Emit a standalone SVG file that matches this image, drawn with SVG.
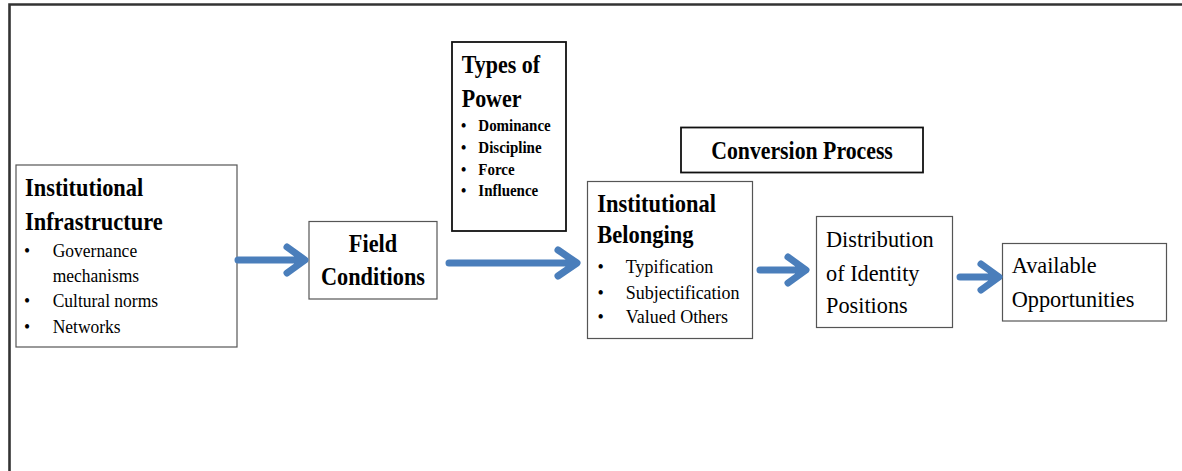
<svg xmlns="http://www.w3.org/2000/svg" width="1182" height="471" viewBox="0 0 1182 471">
<style>
.box{fill:#fff;stroke:#555;stroke-width:1.2}
.boxk{fill:#fff;stroke:#111;stroke-width:1.8}
.b{font-family:"Liberation Serif","Times New Roman",serif;font-weight:bold;fill:#000}
.r{font-family:"Liberation Serif","Times New Roman",serif;fill:#000}
.arr{fill:none;stroke:#4a7ebb;stroke-width:7;stroke-linecap:round;stroke-linejoin:round}
</style>
<rect width="1182" height="471" fill="#fff"/>
<path d="M9.5,480 L9.5,4.5 L1190,4.5" fill="none" stroke="#333" stroke-width="2.6"/>

<g id="institutional-infrastructure">
<rect class="box" x="16" y="165" width="221" height="182"/>
<text class="b" font-size="22.4" transform="translate(25,195.7) scale(1,1.15)">Institutional</text>
<text class="b" font-size="22.4" transform="translate(25,230) scale(1,1.15)">Infrastructure</text>
<g class="r" font-size="17.5">
<text transform="translate(24,256.7) scale(1,1.1)">•</text>
<text transform="translate(52.7,256.7) scale(1,1.1)">Governance</text>
<text transform="translate(52.7,281.7) scale(1,1.1)">mechanisms</text>
<text transform="translate(24,306.7) scale(1,1.1)">•</text>
<text transform="translate(52.7,306.7) scale(1,1.1)">Cultural norms</text>
<text transform="translate(24,333.3) scale(1,1.1)">•</text>
<text transform="translate(52.7,333.3) scale(1,1.1)">Networks</text>
</g>
</g>

<g id="field-conditions">
<rect class="box" x="309" y="221.5" width="128" height="77.5"/>
<text class="b" font-size="22.3" text-anchor="middle" transform="translate(373,251.7) scale(1,1.12)">Field</text>
<text class="b" font-size="22.3" text-anchor="middle" transform="translate(373,285) scale(1,1.12)">Conditions</text>
</g>

<g id="types-of-power">
<rect class="boxk" x="452" y="42" width="114" height="189"/>
<text class="b" font-size="22" transform="translate(461.7,73.3) scale(1,1.12)">Types of</text>
<text class="b" font-size="22" transform="translate(461.7,106.5) scale(1,1.12)">Power</text>
<g class="b" font-size="15">
<text transform="translate(461,131) scale(1,1.15)">•</text>
<text transform="translate(478.3,131) scale(1,1.15)">Dominance</text>
<text transform="translate(461,152.7) scale(1,1.15)">•</text>
<text transform="translate(478.3,152.7) scale(1,1.15)">Discipline</text>
<text transform="translate(461,174.5) scale(1,1.15)">•</text>
<text transform="translate(478.3,174.5) scale(1,1.15)">Force</text>
<text transform="translate(461,196.3) scale(1,1.15)">•</text>
<text transform="translate(478.3,196.3) scale(1,1.15)">Influence</text>
</g>
</g>

<g id="conversion-process">
<rect class="boxk" x="681" y="127.5" width="242" height="45"/>
<text class="b" font-size="21.8" text-anchor="middle" transform="translate(802,159.3) scale(1,1.12)">Conversion Process</text>
</g>

<g id="institutional-belonging">
<rect class="box" x="587.5" y="181.5" width="165" height="157"/>
<text class="b" font-size="22.5" transform="translate(597.3,211.7) scale(1,1.15)">Institutional</text>
<text class="b" font-size="22.5" transform="translate(597.3,243) scale(1,1.15)">Belonging</text>
<g class="r" font-size="18">
<text transform="translate(597.5,273.3) scale(1,1.08)">•</text>
<text transform="translate(625.7,273.3) scale(1,1.08)">Typification</text>
<text transform="translate(597.5,298.5) scale(1,1.08)">•</text>
<text transform="translate(625.7,298.5) scale(1,1.08)">Subjectification</text>
<text transform="translate(597.5,323.3) scale(1,1.08)">•</text>
<text transform="translate(625.7,323.3) scale(1,1.08)">Valued Others</text>
</g>
</g>

<g id="distribution-of-identity-positions">
<rect class="box" x="816.5" y="216.5" width="136" height="111"/>
<g class="r" font-size="22.3">
<text x="826" y="247.3">Distribution</text>
<text x="826" y="280.5">of Identity</text>
<text x="826" y="313.3">Positions</text>
</g>
</g>

<g id="available-opportunities">
<rect class="box" x="1002.5" y="243.5" width="164" height="77.5"/>
<g class="r" font-size="22.3">
<text x="1011.7" y="273.3">Available</text>
<text x="1011.7" y="307.3">Opportunities</text>
</g>
</g>

<g id="connectors">
<path class="arr" d="M238,260 L303,260 M287,247 L305,260 L287,273"/>
<path class="arr" d="M449,263 L575,263 M558,250 L577,263 L558,276"/>
<path class="arr" d="M760,270 L804,270 M788,257 L806,270 L788,283"/>
<path class="arr" d="M960,277 L997,277 M981,264 L999,277 L981,290"/>
</g>
</svg>
